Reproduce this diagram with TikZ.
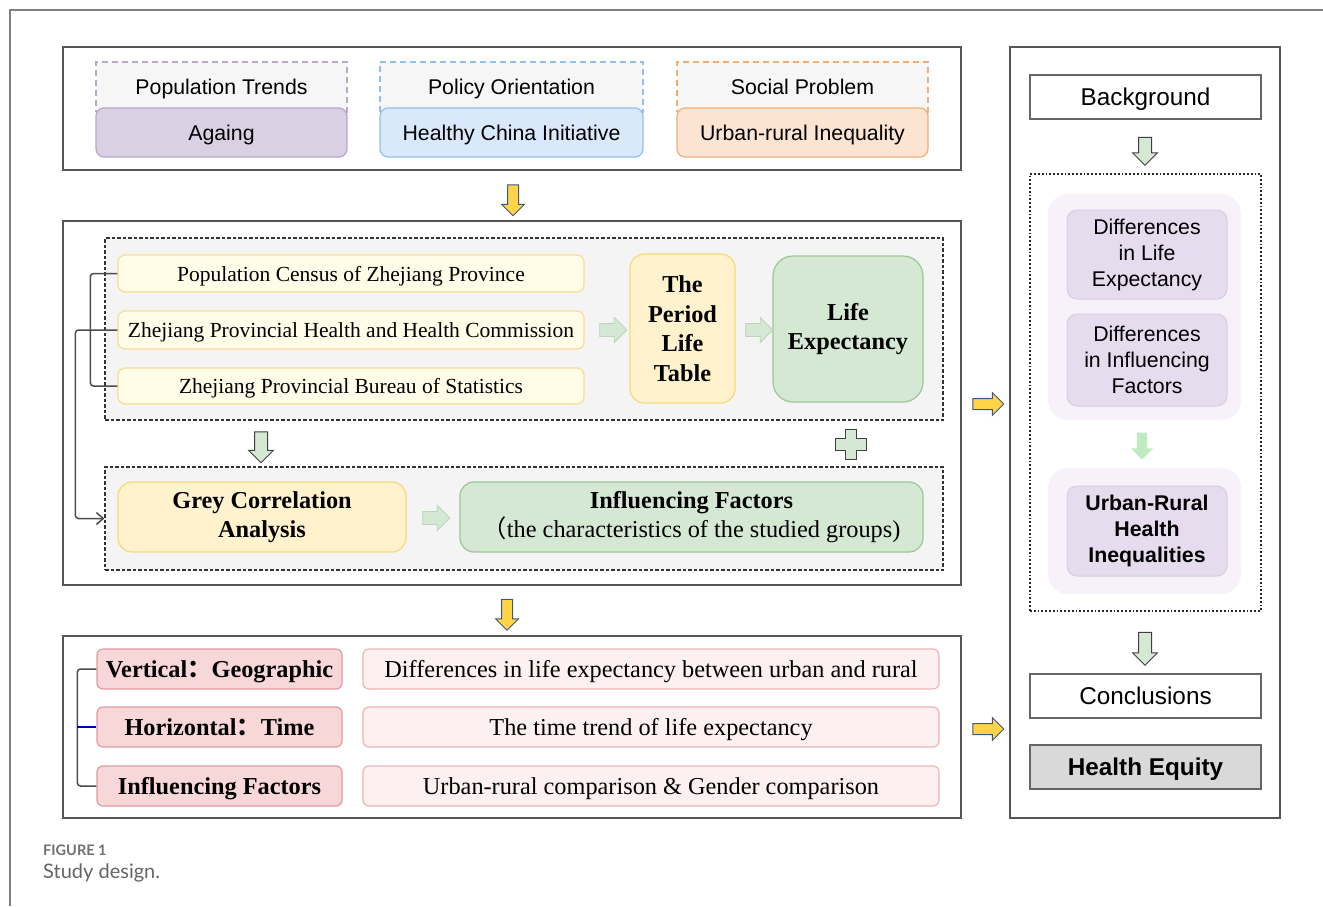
\documentclass[tikz,border=0pt]{standalone}
\usepackage{fontspec}
\setmainfont{Liberation Serif}
\setsansfont{Liberation Sans}
\newfontfamily\cjk{Noto Sans CJK SC}
\newfontfamily\capfont{Lato}
\usetikzlibrary{shapes.arrows,arrows.meta}

\definecolor{framegray}{HTML}{555555}
\definecolor{headgray}{HTML}{F6F6F6}
\definecolor{regfill}{HTML}{F4F4F4}
\definecolor{purpfill}{HTML}{D9D0E4}
\definecolor{purpline}{HTML}{B8A6CB}
\definecolor{bluefill}{HTML}{DAE8FC}
\definecolor{blueline}{HTML}{93C0EA}
\definecolor{orngfill}{HTML}{FCE4D2}
\definecolor{orngline}{HTML}{F0AD74}
\definecolor{srcfill}{HTML}{FFFCE8}
\definecolor{srcline}{HTML}{F6DE8E}
\definecolor{tabfill}{HTML}{FFF2CC}
\definecolor{tabline}{HTML}{F6D97A}
\definecolor{grnfill}{HTML}{D5E8D4}
\definecolor{grnline}{HTML}{9CC597}
\definecolor{pinkfill}{HTML}{F8D7D8}
\definecolor{pinkline}{HTML}{E09A9E}
\definecolor{rosefill}{HTML}{FDF0F0}
\definecolor{roseline}{HTML}{EBB5B7}
\definecolor{lilacbg}{HTML}{F7F1FA}
\definecolor{lilacfill}{HTML}{E6DCEE}
\definecolor{lilacline}{HTML}{D9CDE6}
\definecolor{eqfill}{HTML}{D9D9D9}
\definecolor{arryellow}{HTML}{FFD447}
\definecolor{arrblue}{HTML}{3F5585}
\definecolor{capgray}{HTML}{707070}

\newcommand{\sanstxt}{\sffamily\fontsize{21.3}{26}\selectfont}
\newcommand{\sansbig}{\sffamily\fontsize{24.3}{29}\selectfont}
\newcommand{\sertxt}{\rmfamily\fontsize{21.5}{26}\selectfont}
\newcommand{\serbig}{\rmfamily\fontsize{24.3}{29.5}\selectfont}

\begin{document}
\begin{tikzpicture}[x=1pt,y=-1pt,
  frame/.style={draw=framegray, line width=2.6pt, inner sep=0},
  oneline/.style={text depth=0pt},
  hdr/.style={oneline, dashed, dash pattern=on 6pt off 4pt, line width=1.8pt, fill=headgray,
    minimum height=50pt, inner sep=0, font=\sanstxt},
  tag/.style={oneline, rounded corners=8pt, line width=1.2pt, minimum height=49pt, inner sep=0, font=\sanstxt},
  region/.style={draw=black!80, dashed, dash pattern=on 3.5pt off 2pt, line width=1.1pt,
    fill=regfill, minimum width=838pt, inner sep=0},
  src/.style={oneline, draw=srcline, fill=srcfill, rounded corners=7pt, line width=1.2pt,
    minimum width=466pt, inner sep=0, font=\sertxt},
  tab/.style={draw=tabline, fill=tabfill, rounded corners=14pt, line width=1.2pt,
    inner sep=0, align=center, font=\serbig\bfseries},
  grn/.style={draw=grnline, fill=grnfill, rounded corners=14pt, line width=1.2pt,
    inner sep=0, align=center, font=\serbig},
  dimbox/.style={oneline, draw=pinkline, fill=pinkfill, rounded corners=6pt, line width=1.2pt,
    minimum width=245pt, minimum height=40pt, inner sep=0, font=\serbig\bfseries},
  resbox/.style={oneline, draw=roseline, fill=rosefill, rounded corners=6pt, line width=1.2pt,
    minimum width=576pt, minimum height=40pt, inner sep=0, font=\serbig},
  stepbox/.style={oneline, draw=framegray!90, line width=2pt, minimum width=231pt, minimum height=44pt,
    inner sep=0, font=\sansbig},
  lilacbox/.style={fill=lilacbg, rounded corners=20pt, minimum width=193pt, inner sep=0},
  lilac/.style={draw=lilacline, fill=lilacfill, rounded corners=10pt, line width=1pt,
    minimum width=160pt, inner sep=0, align=center, font=\sanstxt},
  yarrow/.style={single arrow, draw=arrblue, fill=arryellow, line width=1pt,
    inner sep=5pt, single arrow head extend=6pt, minimum height=31pt},
  garrow/.style={single arrow, draw=black!75, fill=grnfill, line width=1pt,
    inner sep=6pt, single arrow head extend=6pt, minimum height=31pt},
  sarrow/.style={single arrow, draw=grnline!70, fill=grnfill, line width=0.8pt,
    inner sep=6pt, single arrow head extend=6pt, minimum height=27pt},
  link/.style={draw=black!70, line width=1.5pt, rounded corners=3pt}]
\useasboundingbox (0,0) rectangle (1323,906);
\draw[gray, line width=1.5pt] (10,906) -- (10,10) -- (1323,10);

% background
\node[frame, minimum width=898pt, minimum height=123pt] (bgbox) at (512,108.5) {};
\node[hdr, draw=purpline, minimum width=251pt] (poph) at (221.5,87) {Population Trends};
\node[tag, draw=purpline, fill=purpfill, minimum width=251pt] (aging) at (221.5,132.5) {Againg};
\node[hdr, draw=blueline, minimum width=263pt] (polh) at (511.5,87) {Policy Orientation};
\node[tag, draw=blueline, fill=bluefill, minimum width=263pt] (hci) at (511.5,132.5) {Healthy China Initiative};
\node[hdr, draw=orngline, minimum width=251pt] (socp) at (802.5,87) {Social Problem};
\node[tag, draw=orngline, fill=orngfill, minimum width=251pt] (uri) at (802.5,132.5) {Urban-rural Inequality};
\node[yarrow, shape border rotate=270] (ya1) at (513,197.5) {};

% methods
\node[frame, minimum width=898pt, minimum height=364pt] (mbox) at (512,403) {};
\node[region, minimum height=182pt] (reg1) at (524,329) {};
\node[src, minimum height=37pt] (src1) at (351,273.5) {Population Census of Zhejiang Province};
\node[src, minimum height=38pt] (src2) at (351,330) {Zhejiang Provincial Health and Health Commission};
\node[src, minimum height=36pt] (src3) at (351,386) {Zhejiang Provincial Bureau of Statistics};
\node[tab, minimum width=105pt, minimum height=149pt] (plt) at (682.5,328.5) {The\\Period\\Life\\Table};
\node[grn, font=\serbig\bfseries, rounded corners=20pt, minimum width=150pt, minimum height=146pt] (lex) at (848,329) {Life\\Expectancy};
\node[sarrow] (sa1) at (610,330) {};
\node[sarrow] (sa2) at (756,330) {};
\node[garrow, shape border rotate=270] (ga1) at (261,444) {};
\draw[black!75, fill=grnfill, line width=1pt] (845,429) -- (856,429) -- (856,438) -- (866,438) -- (866,450)
  -- (856,450) -- (856,459) -- (845,459) -- (845,450) -- (835,450) -- (835,438) -- (845,438) -- cycle;
\node[region, minimum height=103pt] (reg2) at (524,518.5) {};
\node[tab, minimum width=288pt, minimum height=70pt] (gca) at (262,517) {Grey Correlation\\Analysis};
\node[sarrow] (sa3) at (433,518) {};
\node[grn, minimum width=463pt, minimum height=70pt] (inf) at (691.5,517)
  {\textbf{Influencing Factors}\\{\cjk （}the characteristics of the studied groups)};
\draw[link] (src1.west) -- ++(-27,0) |- (src3.west);
\draw[link, -{Straight Barb[length=7pt,width=12pt]}] (src2.west) -- ++(-42,0) |- (reg2.west);
\node[yarrow, shape border rotate=270] (ya2) at (507,612) {};

% results
\node[frame, minimum width=898pt, minimum height=182pt] (rbox) at (512,727) {};
\node[dimbox] (dim1) at (219.5,669) {Vertical{\cjk ：}Geographic};
\node[dimbox] (dim2) at (219.5,727) {Horizontal{\cjk ：}Time};
\node[dimbox] (dim3) at (219.5,786) {Influencing Factors};
\node[resbox] (res1) at (651,669) {Differences in life expectancy between urban and rural};
\node[resbox] (res2) at (651,727) {The time trend of life expectancy};
\node[resbox] (res3) at (651,786) {Urban-rural comparison \& Gender comparison};
\draw[link] (dim1.west) -- ++(-19,0) |- (dim3.west);
\draw[link, draw=blue!70!black] (dim2.west) -- ++(-19,0);

% right panel
\node[yarrow] (ya3) at (985.5,404) {};
\node[yarrow] (ya4) at (985.5,729) {};
\node[frame, minimum width=270pt, minimum height=771pt] (panel) at (1145,432.5) {};
\node[stepbox] (bgr) at (1145.5,97) {Background};
\node[garrow, shape border rotate=270, minimum height=28pt] (ga2) at (1145,148) {};
\node[draw=black!85, dotted, line width=1.8pt, minimum width=231pt, minimum height=437pt, inner sep=0] (dots) at (1145.5,392.5) {};
\node[lilacbox, minimum height=226pt] (lbg1) at (1144.5,307) {};
\node[lilac, minimum height=89pt] (dle) at (1147,254.5) {Differences\\in Life\\Expectancy};
\node[lilac, minimum height=92pt] (dif) at (1147,360) {Differences\\in Influencing\\Factors};
\node[single arrow, fill=grnfill!90!green, inner sep=5pt, single arrow head extend=6pt, minimum height=27pt, shape border rotate=270] (sa4) at (1142,443.5) {};
\node[lilacbox, minimum height=126pt] (lbg2) at (1144.5,531) {};
\node[lilac, font=\sanstxt\bfseries, minimum height=90pt] (urh) at (1147,531) {Urban-Rural\\Health\\Inequalities};
\node[garrow, shape border rotate=270, minimum height=33pt] (ga3) at (1145,645.5) {};
\node[stepbox] (conc) at (1145.5,696) {Conclusions};
\node[stepbox, fill=eqfill, font=\sansbig\bfseries] (heq) at (1145.5,767) {Health Equity};

% caption
\node[anchor=west, inner sep=0, text=capgray, font=\capfont\bfseries\fontsize{14.5}{16}\selectfont] (fig) at (43,850) {FIGURE 1};
\node[anchor=west, inner sep=0, text=capgray!90!black, font=\capfont\fontsize{20}{22}\selectfont] (cap) at (43,873) {Study design.};
\end{tikzpicture}
\end{document}
